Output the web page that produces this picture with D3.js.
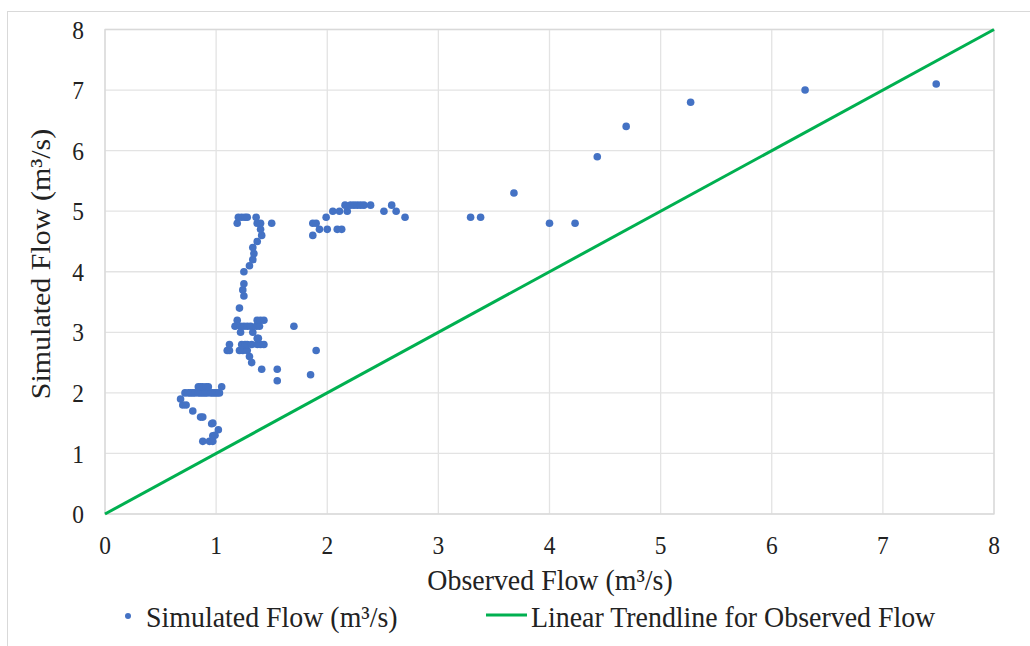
<!DOCTYPE html>
<html>
<head>
<meta charset="utf-8">
<script src="https://cdn.jsdelivr.net/npm/d3@7.9.0/dist/d3.min.js"></script>
<style>
  body { margin: 0; background: #fff; }
  svg { display: block; font-family: "Liberation Serif", "Times New Roman", serif; }
</style>
</head>
<body>
<svg width="1030" height="646"></svg>
<script>
// observed (x) and simulated (y) flow
const observedFlow = [
  0.88, 0.94, 0.97, 0.97, 0.99, 1.02, 0.96, 0.97, 0.86, 0.88, 0.79, 0.70, 0.73, 0.68,
  0.72, 0.75, 0.77, 0.79, 0.81, 0.84, 0.86, 0.88, 0.90, 0.92, 0.95, 0.97, 0.99, 1.01, 1.03,
  0.84, 0.86, 0.88, 0.91, 0.93, 1.05,
  1.55, 1.85, 1.41, 1.55, 1.32, 1.30,
  1.10, 1.12, 1.21, 1.24, 1.28, 1.90,
  1.12, 1.23, 1.26, 1.28, 1.32, 1.37, 1.40, 1.43,
  1.37, 1.38, 1.22, 1.33,
  1.17, 1.22, 1.25, 1.28, 1.31, 1.36, 1.39, 1.70,
  1.19, 1.37, 1.40, 1.43,
  1.21, 1.25, 1.24, 1.25, 1.25, 1.30, 1.33, 1.34, 1.33, 1.37, 1.41, 1.40,
  1.19, 1.37, 1.40, 1.50,
  1.20, 1.23, 1.26, 1.28, 1.36,
  1.87, 1.93, 2.00, 2.09, 2.13, 1.87, 1.90, 1.99, 2.70,
  2.05, 2.11, 2.18, 2.51, 2.62,
  2.16, 2.21, 2.24, 2.27, 2.30, 2.33, 2.39, 2.58,
  3.29, 3.38, 3.68, 4.00, 4.23, 4.43, 4.69, 5.27, 6.30, 7.48
];
const simulatedFlow = [
  1.2, 1.2, 1.2, 1.29, 1.3, 1.39, 1.49, 1.5, 1.6, 1.6, 1.7, 1.8, 1.8, 1.9,
  2.0, 2.0, 2.0, 2.0, 2.0, 2.0, 2.0, 2.0, 2.0, 2.0, 2.0, 2.0, 2.0, 2.0, 2.0,
  2.1, 2.1, 2.1, 2.1, 2.1, 2.1,
  2.2, 2.3, 2.39, 2.39, 2.5, 2.6,
  2.7, 2.7, 2.7, 2.7, 2.7, 2.7,
  2.8, 2.8, 2.8, 2.8, 2.8, 2.8, 2.8, 2.8,
  2.9, 2.9, 3.0, 3.0,
  3.1, 3.1, 3.1, 3.1, 3.1, 3.1, 3.1, 3.1,
  3.2, 3.2, 3.2, 3.2,
  3.4, 3.6, 3.7, 3.8, 4.0, 4.1, 4.2, 4.3, 4.4, 4.5, 4.6, 4.7,
  4.8, 4.8, 4.8, 4.8,
  4.9, 4.9, 4.9, 4.9, 4.9,
  4.6, 4.7, 4.7, 4.7, 4.7, 4.8, 4.8, 4.9, 4.9,
  5.0, 5.0, 5.0, 5.0, 5.0,
  5.1, 5.1, 5.1, 5.1, 5.1, 5.1, 5.1, 5.1,
  4.9, 4.9, 5.3, 4.8, 4.8, 5.9, 6.4, 6.8, 7.0, 7.1
];
const trendX = [0, 8];
const axisTicks = [0, 1, 2, 3, 4, 5, 6, 7, 8];

const svg = d3.select("svg");
const plotLeft = 105, plotRight = 994, plotTop = 29.5, plotBottom = 514;
const squeeze = 0.93;   // the source text looks slightly narrowed

const x = d3.scaleLinear().domain([0, 8]).range([plotLeft, plotRight]);
const y = d3.scaleLinear().domain([0, 8]).range([plotBottom, plotTop]);

// outer chart frame (only left/top edges visible in the crop)
svg.append("rect")
  .attr("x", 7.5).attr("y", 11.5).attr("width", 1040).attr("height", 660)
  .attr("fill", "none").attr("stroke", "#d9d9d9");

// gridlines
svg.append("g").selectAll("line").data(axisTicks).join("line")
  .attr("x1", plotLeft).attr("x2", plotRight)
  .attr("y1", d => y(d)).attr("y2", d => y(d))
  .attr("stroke", "#e3e3e3").attr("stroke-width", 1.3);
svg.append("g").selectAll("line").data(axisTicks).join("line")
  .attr("y1", plotTop).attr("y2", plotBottom)
  .attr("x1", d => x(d)).attr("x2", d => x(d))
  .attr("stroke", "#e3e3e3").attr("stroke-width", 1.3);
svg.append("rect")
  .attr("x", plotLeft).attr("y", plotTop)
  .attr("width", plotRight - plotLeft).attr("height", plotBottom - plotTop)
  .attr("fill", "none").attr("stroke", "#d9d9d9").attr("stroke-width", 1.3);

// tick labels
svg.append("g").selectAll("text").data(axisTicks).join("text")
  .attr("transform", d => `translate(84,${y(d)}) scale(0.9,1)`)
  .attr("dy", "0.35em")
  .attr("text-anchor", "end").attr("font-size", 26).attr("fill", "#222")
  .text(d => d);
svg.append("g").selectAll("text").data(axisTicks).join("text")
  .attr("transform", d => `translate(${x(d)},554) scale(0.9,1)`)
  .attr("text-anchor", "middle").attr("font-size", 26).attr("fill", "#222")
  .text(d => d);

// trendline
svg.append("path")
  .datum(trendX)
  .attr("d", d3.line().x(d => x(d)).y(d => y(d)))
  .attr("stroke", "#00b050").attr("stroke-width", 3).attr("fill", "none");

// points
svg.append("g").selectAll("circle").data(observedFlow).join("circle")
  .attr("cx", d => x(d))
  .attr("cy", (d, i) => y(simulatedFlow[i]))
  .attr("r", 3.8)
  .attr("fill", "#4472c4");

// axis titles
svg.append("text")
  .attr("transform", `translate(550,590) scale(${squeeze},1)`)
  .attr("text-anchor", "middle").attr("font-size", 30).attr("fill", "#222")
  .text("Observed Flow (m³/s)");
svg.append("text")
  .attr("transform", `translate(50,264) rotate(-90) scale(1,${squeeze})`)
  .attr("text-anchor", "middle").attr("font-size", 30).attr("fill", "#222")
  .text("Simulated Flow (m³/s)");

// legend
const legend = svg.append("g");
legend.append("circle").attr("cx", 128).attr("cy", 616).attr("r", 3).attr("fill", "#4472c4");
legend.append("text")
  .attr("transform", `translate(146,627) scale(${squeeze},1)`)
  .attr("font-size", 30).attr("fill", "#222")
  .text("Simulated Flow (m³/s)");
legend.append("line").attr("x1", 486).attr("x2", 527).attr("y1", 615).attr("y2", 615)
  .attr("stroke", "#00b050").attr("stroke-width", 3);
legend.append("text")
  .attr("transform", `translate(531,627) scale(${squeeze},1)`)
  .attr("font-size", 30).attr("fill", "#222")
  .text("Linear Trendline for Observed Flow");
</script>
</body>
</html>
